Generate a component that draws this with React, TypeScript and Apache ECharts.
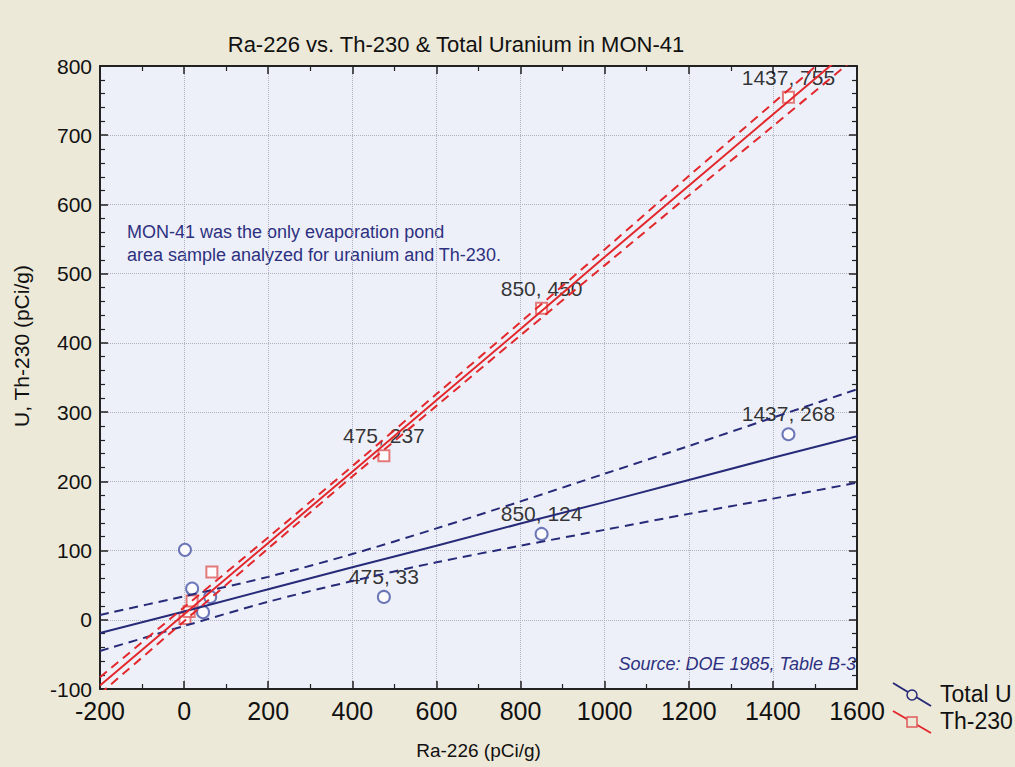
import React, { useEffect, useRef } from "react";
import * as echarts from "echarts";

// Total uranium samples (Ra-226, U)
const uPoints: [number, number][] = [
  [2, 101], [19, 45], [45, 11], [62, 33], [475, 33], [850, 124], [1437, 268],
];
const uLabels: (string | null)[] = [null, null, null, null, "475, 33", "850, 124", "1437, 268"];

// Th-230 samples (Ra-226, Th-230)
const thPoints: [number, number][] = [
  [2, 2], [12, 12], [19, 27], [66, 69], [475, 237], [850, 450], [1437, 755],
];
const thLabels: (string | null)[] = [null, null, null, null, "475, 237", "850, 450", "1437, 755"];

// x positions where fit and confidence curves were read
const bandX = [-200, 0, 200, 400, 600, 800, 1000, 1200, 1400, 1600];

// Total U regression line and 95% band
const uFit = [-19, 12, 44, 76, 107, 139, 170, 202, 234, 265];
const uUpper = [7, 34, 62, 95, 132, 171, 211, 251, 292, 333];
const uLower = [-45, -9, 26, 56, 83, 107, 130, 153, 175, 198];

// Th-230 regression line and 95% band
const thFit = [-95, 8, 111, 214, 317, 420, 524, 627, 730, 833];
const thUpper = [-83, 18, 119, 222, 326, 430, 535, 641, 746, 852];
const thLower = [-107, -2, 103, 207, 309, 411, 512, 613, 713, 814];

const xTicks = { min: -200, max: 1600, interval: 200 };
const yTicks = { min: -100, max: 800, interval: 100 };

const NAVY = "#262a78";
const BLUE_PT = "#4a58a6";
const RED = "#e2282c";
const RED_PT = "#e05a5a";

function pair(xs: number[], ys: number[]) {
  return xs.map((x, i) => [x, ys[i]]);
}

export default function App() {
  const ref = useRef<HTMLDivElement>(null);
  useEffect(() => {
    if (!ref.current) return;
    const chart = echarts.init(ref.current, null, { renderer: "svg" });
    const font = "Liberation Sans, Arial, sans-serif";
    const plain = (v: number) => String(v);
    const axisCommon = {
      type: "value" as const,
      axisLine: { show: true, onZero: false, lineStyle: { color: "#222", width: 2 } },
      axisTick: { show: true, inside: true, length: 8, lineStyle: { color: "#222", width: 1.5 } },
      minorTick: { show: true, length: 5, lineStyle: { color: "#222", width: 1.2 } },
    };
    const labelItem = (lab: string | null, v: [number, number]) =>
      lab
        ? {
            value: v,
            label: {
              show: true,
              position: "top",
              distance: 3,
              formatter: lab,
              color: "#000",
              textBorderWidth: 0,
              fontSize: 21,
              fontFamily: font,
            },
          }
        : { value: v };
    const lineSeries = (data: number[][], color: string, dashed: boolean, z: number) => ({
      type: "line",
      data,
      showSymbol: false,
      symbol: "none",
      smooth: dashed ? 0.3 : false,
      clip: true,
      z,
      silent: true,
      lineStyle: { color, width: 2, type: dashed ? [9, 6] : "solid" },
    });
    chart.setOption({
      animation: false,
      backgroundColor: "#ede9d8",
      title: {
        text: "Ra-226 vs. Th-230 & Total Uranium in MON-41",
        left: 451,
        top: 28,
        textAlign: "center",
        textStyle: { fontFamily: font, fontSize: 22, fontWeight: "normal", color: "#111" },
      },
      grid: {
        left: 100,
        top: 66,
        right: 158,
        bottom: 78,
        show: true,
        backgroundColor: "#eef0f9",
        borderWidth: 0,
      },
      xAxis: [
        {
          ...axisCommon,
          ...xTicks,
          position: "bottom",
          minorTick: { ...axisCommon.minorTick, splitNumber: 2 },
          axisLabel: { color: "#111", fontSize: 25, fontFamily: font, margin: 9, formatter: plain },
          splitLine: { show: true, lineStyle: { color: "#b0b0c0", type: "dotted", width: 1 } },
          name: "Ra-226 (pCi/g)",
          nameLocation: "middle",
          nameGap: 52,
          nameTextStyle: { color: "#111", fontSize: 19, fontFamily: font },
        },
        {
          ...axisCommon,
          ...xTicks,
          position: "top",
          minorTick: { ...axisCommon.minorTick, splitNumber: 2 },
          axisLabel: { show: false },
          splitLine: { show: false },
        },
      ],
      yAxis: [
        {
          ...axisCommon,
          ...yTicks,
          position: "left",
          minorTick: { ...axisCommon.minorTick, splitNumber: 5 },
          axisLabel: { color: "#111", fontSize: 21, fontFamily: font, margin: 8, formatter: plain },
          splitLine: { show: true, lineStyle: { color: "#b0b0c0", type: "dotted", width: 1 } },
        },
        {
          ...axisCommon,
          ...yTicks,
          position: "right",
          minorTick: { ...axisCommon.minorTick, splitNumber: 5 },
          axisLabel: { show: false },
          splitLine: { show: false },
        },
      ],
      series: [
        lineSeries(pair(bandX, uFit), NAVY, false, 3),
        lineSeries(pair(bandX, uUpper), NAVY, true, 3),
        lineSeries(pair(bandX, uLower), NAVY, true, 3),
        lineSeries(pair(bandX, thFit), RED, false, 4),
        lineSeries(pair(bandX, thUpper), RED, true, 4),
        lineSeries(pair(bandX, thLower), RED, true, 4),
        {
          name: "Total U",
          type: "scatter",
          symbol: "emptyCircle",
          symbolSize: 12,
          z: 2,
          itemStyle: { color: BLUE_PT, borderWidth: 1.2 },
          data: uPoints.map((p, i) => labelItem(uLabels[i], p)),
        },
        {
          name: "Th-230",
          type: "scatter",
          symbol: "emptyRect",
          symbolSize: 11,
          z: 2,
          itemStyle: { color: RED_PT, borderWidth: 1.2 },
          data: thPoints.map((p, i) => labelItem(thLabels[i], p)),
        },
      ],
      graphic: [
        {
          type: "text",
          x: 21,
          y: 346,
          rotation: Math.PI / 2,
          style: {
            text: "U, Th-230 (pCi/g)",
            fill: "#111",
            font: "21px Liberation Sans, Arial, sans-serif",
            textAlign: "center",
            textVerticalAlign: "middle",
          },
        },
        {
          type: "text",
          left: 127,
          top: 220,
          style: {
            text: "MON-41 was the only evaporation pond\narea sample analyzed for uranium and Th-230.",
            fill: "#2d3080",
            font: "18px Liberation Sans, Arial, sans-serif",
            lineHeight: 23,
          },
        },
        {
          type: "text",
          right: 1015 - 856,
          top: 655,
          style: {
            text: "Source: DOE 1985, Table B-3",
            fill: "#2d3080",
            font: "italic 18px Liberation Sans, Arial, sans-serif",
          },
        },
        {
          type: "line",
          shape: { x1: 893, y1: 683, x2: 931, y2: 706 },
          style: { stroke: NAVY, lineWidth: 2 },
        },
        {
          type: "circle",
          shape: { cx: 912, cy: 695, r: 5 },
          style: { fill: "#ede9d8", stroke: NAVY, lineWidth: 1.5 },
        },
        {
          type: "line",
          shape: { x1: 893, y1: 711, x2: 931, y2: 733 },
          style: { stroke: RED, lineWidth: 2 },
        },
        {
          type: "rect",
          shape: { x: 907, y: 717, width: 10, height: 10 },
          style: { fill: "#ede9d8", stroke: RED_PT, lineWidth: 1.5 },
        },
        {
          type: "text",
          left: 940,
          top: 682,
          style: { text: "Total U", fill: "#111", font: "23px Liberation Sans, Arial, sans-serif" },
        },
        {
          type: "text",
          left: 940,
          top: 709,
          style: { text: "Th-230", fill: "#111", font: "23px Liberation Sans, Arial, sans-serif" },
        },
      ],
    });
    return () => chart.dispose();
  }, []);
  return (
    <div
      ref={ref}
      style={{ position: "absolute", left: 0, top: 0, width: 1015, height: 767 }}
    />
  );
}
